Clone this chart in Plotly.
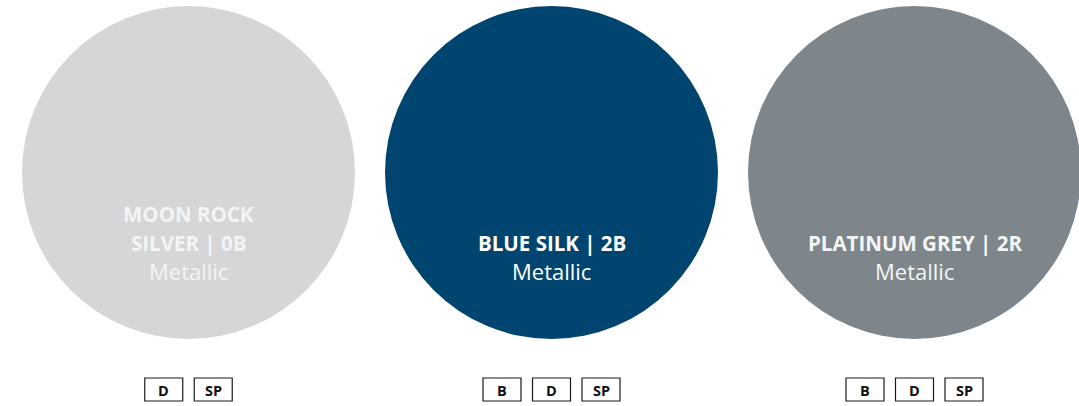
import plotly.graph_objects as go

# ---- data ----
colour_names = [["MOON ROCK", "SILVER | 0B"], ["BLUE SILK | 2B"], ["PLATINUM GREY | 2R"]]
finishes = ["Metallic", "Metallic", "Metallic"]
swatch_colours = ["#D5D6D8", "#00456F", "#7F868B"]
text_colours = ["#F4F4F5", "#FFFFFF", "#F4F5F5"]
options = [["D", "SP"], ["B", "D", "SP"], ["B", "D", "SP"]]

# ---- layout constants ----
W, H = 1079, 406
first_cx, spacing = 188.5, 363.0
cy, r = 172.5, 166.5
finish_y, line_gap = 271, 28.5
box_y, box_w, box_h, box_gap = 389.5, 38, 23, 49.5
font_family = "Open Sans, Noto Sans, sans-serif"

fig = go.Figure()
fig.add_trace(go.Scatter(x=[0, W], y=[0, H], mode="markers", marker=dict(opacity=0),
                         hoverinfo="skip", showlegend=False))

shapes, annotations = [], []
for i, (names, fin, col, tcol, opts) in enumerate(zip(colour_names, finishes, swatch_colours, text_colours, options)):
    cx = first_cx + i * spacing
    shapes.append(dict(type="circle", xref="x", yref="y", x0=cx - r, x1=cx + r, y0=cy - r, y1=cy + r,
                       fillcolor=col, line=dict(width=0), layer="below"))
    for j, line in enumerate(reversed(names)):
        annotations.append(dict(x=cx, y=finish_y - line_gap * (j + 1), xref="x", yref="y",
                                text=f"<b>{line}</b>", showarrow=False, xanchor="center", yanchor="middle",
                                font=dict(family=font_family, size=20.5, color=tcol)))
    annotations.append(dict(x=cx, y=finish_y, xref="x", yref="y", text=fin, showarrow=False,
                            xanchor="center", yanchor="middle",
                            font=dict(family=font_family, size=22, color=tcol)))
    n = len(opts)
    for k, o in enumerate(opts):
        bx = cx + (k - (n - 1) / 2) * box_gap
        shapes.append(dict(type="rect", xref="x", yref="y", x0=bx - box_w / 2, x1=bx + box_w / 2,
                           y0=box_y - box_h / 2, y1=box_y + box_h / 2,
                           line=dict(color="#1a1a1a", width=1.2), fillcolor="rgba(0,0,0,0)"))
        annotations.append(dict(x=bx, y=box_y + 0.5, xref="x", yref="y", text=f"<b>{o}</b>", showarrow=False,
                                xanchor="center", yanchor="middle",
                                font=dict(family=font_family, size=14.5, color="#111111")))

fig.update_layout(
    width=W, height=H, margin=dict(l=0, r=0, t=0, b=0),
    paper_bgcolor="white", plot_bgcolor="white",
    xaxis=dict(range=[0, W], visible=False, fixedrange=True),
    yaxis=dict(range=[H, 0], visible=False, fixedrange=True),
    shapes=shapes, annotations=annotations, showlegend=False,
)
fig.write_html("out.html", config={"displayModeBar": False},
               post_script="document.body.style.margin='0';document.body.style.overflow='hidden';")
